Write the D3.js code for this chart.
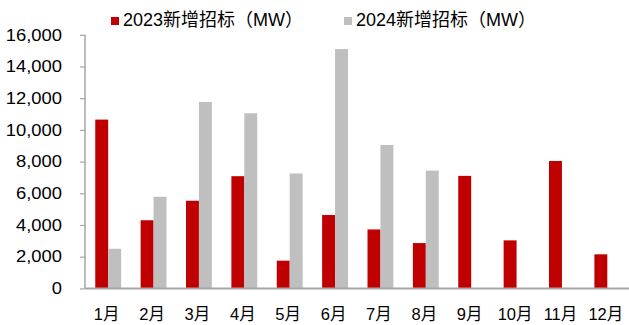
<!DOCTYPE html>
<html><head><meta charset="utf-8">
<script src="https://cdn.jsdelivr.net/npm/d3@7"></script>
<style>
html,body{margin:0;padding:0;background:#fff;}
svg{display:block;}
text{font-family:Arial,"Liberation Sans","Noto Sans CJK SC",sans-serif;fill:#000;}
</style></head>
<body>
<svg id="c" width="629" height="325"></svg>
<script>
const months = ["1月","2月","3月","4月","5月","6月","7月","8月","9月","10月","11月","12月"];
const seriesNames = ["2023新增招标（MW）","2024新增招标（MW）"];
const values2023 = [10650,4300,5530,7080,1750,4630,3720,2860,7100,3030,8040,2150];
const values2024 = [2500,5780,11760,11050,7250,15100,9050,7430,null,null,null,null];
const yTicks = [0,2000,4000,6000,8000,10000,12000,14000,16000];
const colors = ["#C00000","#BFBFBF"];

const svg = d3.select("#c");
const x0 = d3.scaleBand().domain(months).range([85.5,630]).paddingInner(0.43).paddingOuter(0.215);
const x1 = d3.scaleBand().domain([0,1]).range([0,x0.bandwidth()]);
const y = d3.scaleLinear().domain([0,16000]).range([288.4,34.8]);

const series = [values2023, values2024];
series.forEach((vals,si)=>{
  svg.append("g").selectAll("rect").data(months.map((m,i)=>({m,v:vals[i]})).filter(d=>d.v!=null))
    .join("rect")
    .attr("x",d=>x0(d.m)+x1(si))
    .attr("width",x1.bandwidth())
    .attr("y",d=>y(d.v))
    .attr("height",d=>y(0)-y(d.v))
    .attr("fill",colors[si]);
});

// Y axis
const yAxis = svg.append("g").attr("transform","translate(85,0)")
  .call(d3.axisLeft(y).tickValues(yTicks).tickSize(5).tickFormat(""));
yAxis.select(".domain").attr("stroke","#A6A6A6").attr("stroke-width",1.5).attr("d","M0,"+y(16000)+"V"+y(0));
yAxis.selectAll(".tick line").attr("stroke","#A6A6A6").attr("stroke-width",1.2);
// Y labels (slightly wide)
svg.append("g").selectAll("g").data(yTicks).join("g")
  .attr("transform",d=>`translate(62,${y(d)+5.7}) scale(1.15,1)`)
  .append("text").attr("text-anchor","end").attr("font-size",16)
  .text(d=>d3.format(",")(d));

// X axis
const xAxis = svg.append("g").attr("transform",`translate(-1.5,${y(0)})`)
  .call(d3.axisBottom(x0).tickSize(0).tickPadding(0));
xAxis.select(".domain").attr("stroke","#A6A6A6").attr("stroke-width",2).attr("d","M86.5,0H631");
xAxis.selectAll(".tick text").attr("font-size",16.5).attr("dy",0).attr("y",32)
  .style("font-family","Arial,'Liberation Sans','Noto Sans CJK SC',sans-serif").attr("fill","#000");

// Legend
const legendX = [111,344];
seriesNames.forEach((n,i)=>{
  svg.append("rect").attr("x",legendX[i]).attr("y",17).attr("width",8).attr("height",8).attr("fill",colors[i]);
  svg.append("text").attr("x",legendX[i]+12).attr("y",26).attr("font-size",18).text(n);
});
</script>
</body></html>
